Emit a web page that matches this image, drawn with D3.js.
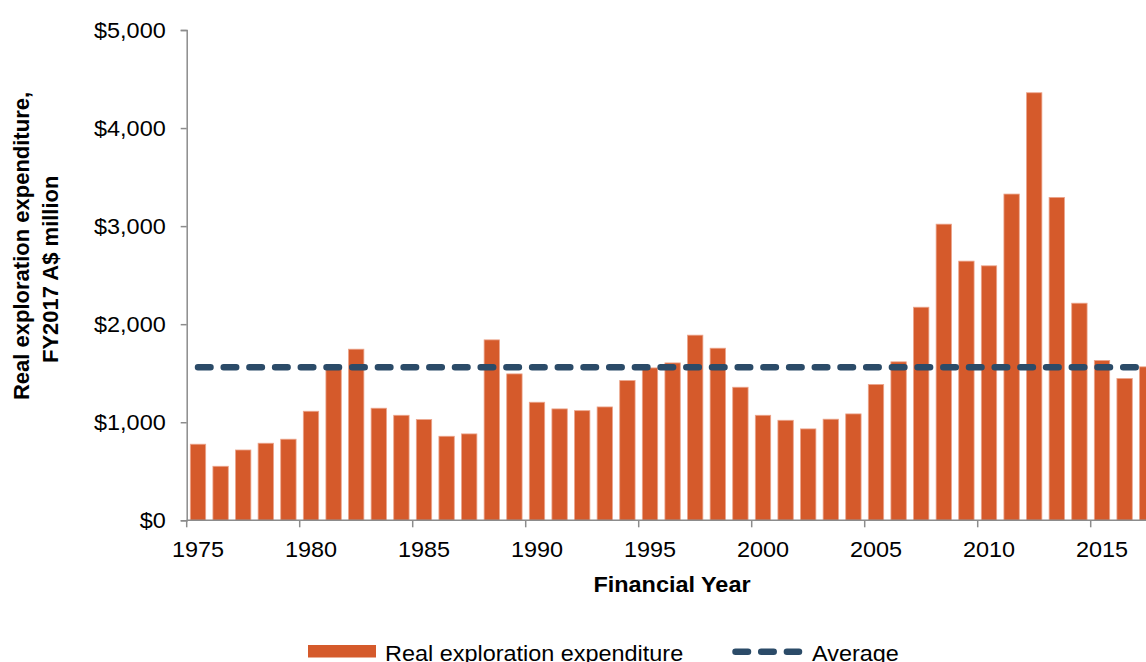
<!DOCTYPE html>
<html>
<head>
<meta charset="utf-8">
<script src="https://cdn.jsdelivr.net/npm/d3@7"></script>
<style>
  body { margin: 0; background: #fff; }
  text { font-family: "Liberation Sans", Arial, sans-serif; fill: #000; }
</style>
</head>
<body>
<svg id="chart"></svg>
<script>
// data
var years = d3.range(1975, 2018);
var spend = [776, 551, 717, 786, 827, 1112, 1545, 1745, 1143, 1071,
             1027, 857, 881, 1840, 1493, 1204, 1136, 1118, 1156, 1425,
             1554, 1605, 1888, 1755, 1357, 1071, 1020, 932, 1031, 1085,
             1385, 1616, 2173, 3020, 2643, 2595, 3327, 4360, 3293, 2214,
             1630, 1446, 1565];
var avgValue = 1560;
var yTicks = [0, 1000, 2000, 3000, 4000, 5000];
var xLabelYears = [1975, 1980, 1985, 1990, 1995, 2000, 2005, 2010, 2015];

var W = 1146, H = 662;
var plotLeft = 186.7, plotTop = 30, plotBottom = 520.3;
var step = 22.6;

var barColor = "#d55a2b",
    barEdge = "#eca58c",
    avgColor = "#2b4b68",
    axisColor = "#8c8c8c";

var svg = d3.select("#chart").attr("width", W).attr("height", H);

var x = d3.scaleBand()
    .domain(years)
    .range([plotLeft, plotLeft + years.length * step])
    .paddingInner(0.32)
    .paddingOuter(0.16);

var y = d3.scaleLinear().domain([0, 5000]).range([plotBottom, plotTop]);

// bars
svg.append("g").selectAll("rect")
  .data(years)
  .enter().append("rect")
    .attr("x", function(d) { return x(d); })
    .attr("width", x.bandwidth())
    .attr("y", function(d, i) { return y(spend[i]); })
    .attr("height", function(d, i) { return plotBottom - y(spend[i]); })
    .style("fill", barColor)
    .style("stroke", barEdge)
    .style("stroke-width", 0.8);

// average line (one point per year)
var line = d3.line()
    .x(function(d) { return x(d) + x.bandwidth() / 2; })
    .y(function() { return y(avgValue); });

svg.append("path")
    .datum(years)
    .attr("d", line)
    .style("fill", "none")
    .style("stroke", avgColor)
    .style("stroke-width", 6.5)
    .style("stroke-linecap", "round")
    .style("stroke-dasharray", "12.5,13.2");

// y axis
var yAxis = d3.axisLeft(y)
    .tickValues(yTicks)
    .tickSize(6)
    .tickPadding(15)
    .tickFormat(function(d) { return "$" + d3.format(",")(d); });

var gy = svg.append("g")
    .attr("transform", "translate(" + plotLeft + ",0)")
    .call(yAxis);
gy.select(".domain").style("stroke", axisColor).style("stroke-width", 1.5);
gy.selectAll(".tick line").style("stroke", axisColor).style("stroke-width", 1.5);
gy.selectAll(".tick text")
    .style("font-size", "22px")
    .style("font-family", "Liberation Sans, Arial, sans-serif")
    .style("fill", "#000")
    .style("transform-box", "fill-box")
    .style("transform-origin", "right center")
    .style("transform", "scaleX(1.065)");

// x axis: ticks on category boundaries every 5 years, labels centred in band
var xEnd = plotLeft + years.length * step;
var gx = svg.append("g");
gx.append("line")
    .attr("x1", plotLeft).attr("x2", xEnd)
    .attr("y1", plotBottom).attr("y2", plotBottom)
    .style("stroke", axisColor).style("stroke-width", 1.5);

gx.selectAll(".xtick")
  .data(xLabelYears)
  .enter().append("line")
    .attr("class", "xtick")
    .attr("x1", function(d) { return x(d) - x.step() * x.paddingInner() / 2; })
    .attr("x2", function(d) { return x(d) - x.step() * x.paddingInner() / 2; })
    .attr("y1", plotBottom).attr("y2", plotBottom + 7)
    .style("stroke", axisColor).style("stroke-width", 1.5);

gx.selectAll(".xlab")
  .data(xLabelYears)
  .enter().append("text")
    .attr("class", "xlab")
    .attr("x", function(d) { return x(d) + x.bandwidth() / 2; })
    .attr("y", 557)
    .attr("text-anchor", "middle")
    .style("font-size", "22px")
    .style("transform-box", "fill-box")
    .style("transform-origin", "center")
    .style("transform", "scaleX(1.065)")
    .text(function(d) { return d; });

// axis titles
svg.append("text")
    .attr("x", 672)
    .attr("y", 592)
    .attr("text-anchor", "middle")
    .style("font-size", "22px")
    .style("font-weight", "bold")
    .style("transform-box", "fill-box")
    .style("transform-origin", "center")
    .style("transform", "scaleX(1.065)")
    .text("Financial Year");

// y title, two lines
svg.append("text")
    .attr("text-anchor", "middle")
    .attr("transform", "translate(28.5,246) rotate(-90)")
    .style("font-size", "22px")
    .style("font-weight", "bold")
    .text("Real exploration expenditure,");
svg.append("text")
    .attr("text-anchor", "start")
    .attr("transform", "translate(58.3,363) rotate(-90)")
    .style("font-size", "22px")
    .style("font-weight", "bold")
    .text("FY2017 A$ million");

// legend
var lg = svg.append("g");
lg.append("rect")
    .attr("x", 308).attr("y", 645)
    .attr("width", 68).attr("height", 12.5)
    .style("fill", barColor);
lg.append("text")
    .attr("x", 385).attr("y", 661)
    .style("font-size", "22px")
    .style("transform-box", "fill-box")
    .style("transform-origin", "left center")
    .style("transform", "scaleX(1.065)")
    .text("Real exploration expenditure");
lg.append("line")
    .attr("x1", 735.5).attr("x2", 799)
    .attr("y1", 651.7).attr("y2", 651.7)
    .style("stroke", avgColor)
    .style("stroke-width", 6.5)
    .style("stroke-linecap", "round")
    .style("stroke-dasharray", "12.5,13.2");
lg.append("text")
    .attr("x", 812).attr("y", 661)
    .style("font-size", "22px")
    .style("transform-box", "fill-box")
    .style("transform-origin", "left center")
    .style("transform", "scaleX(1.065)")
    .text("Average");
</script>
</body>
</html>
